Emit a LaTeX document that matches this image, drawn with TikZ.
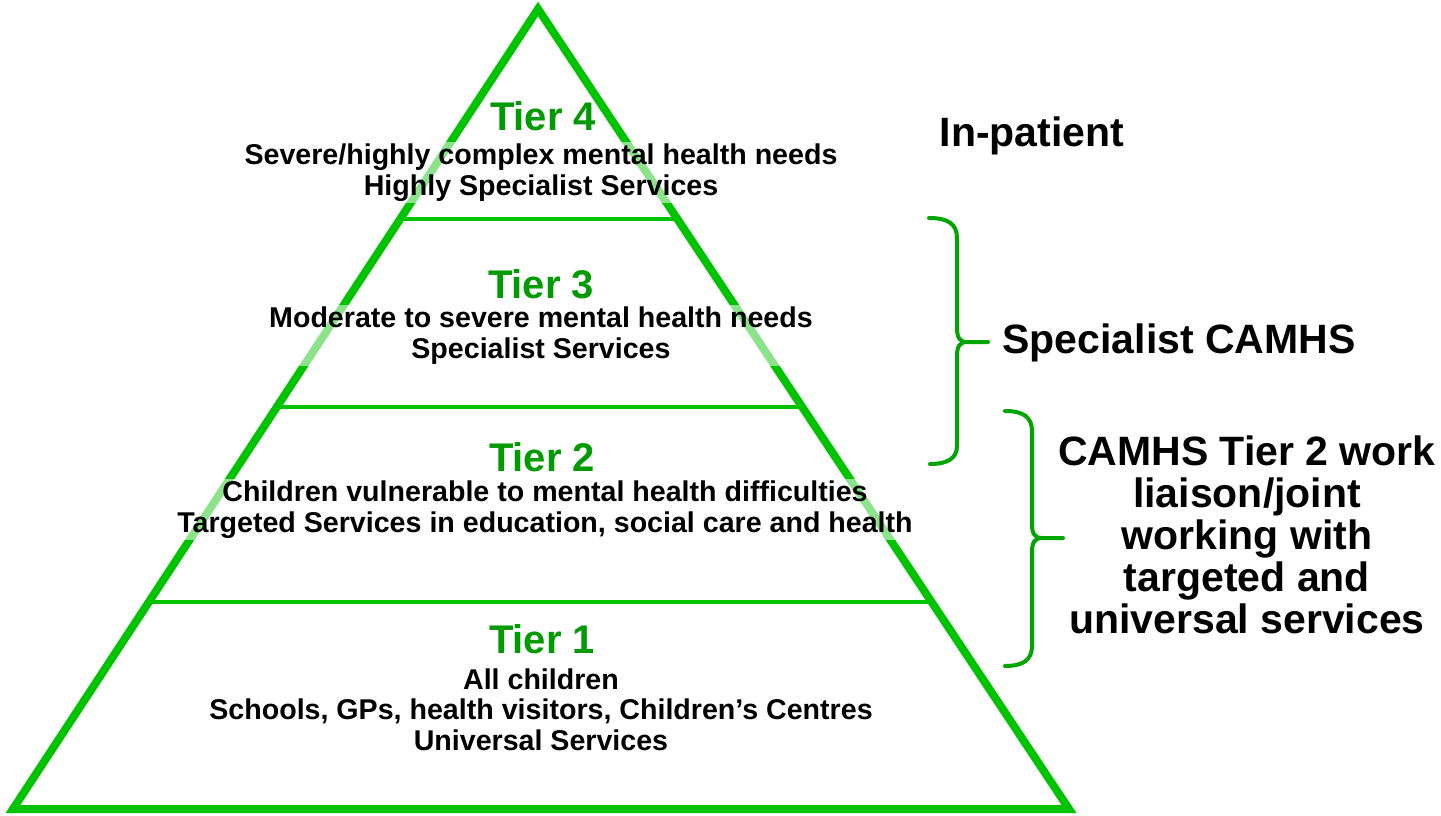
\documentclass[tikz,border=0pt]{standalone}
\usepackage{fontspec}
\setmainfont{Liberation Sans}
\usetikzlibrary{calc}
\definecolor{pyr}{RGB}{0,195,0}
\definecolor{tiergreen}{RGB}{0,155,0}
\definecolor{bracegreen}{RGB}{0,165,0}
\tikzset{
 outer/.style={draw=pyr, line width=4pt, line join=miter},
 divider/.style={draw=pyr, line width=2pt},
 tiertitle/.style={anchor=base, text=tiergreen, font=\fontsize{20}{22}\selectfont\bfseries, inner sep=0pt},
 desc/.style={anchor=base, align=center, font=\fontsize{14.3}{15.2}\selectfont\bfseries, fill=white, fill opacity=0.55, text opacity=1, inner sep=1pt},
 sidelabel/.style={anchor=base, align=center, font=\fontsize{20.5}{21}\selectfont\bfseries, inner sep=0pt},
 bracepath/.style={draw=bracegreen, line width=2pt, line cap=round, line join=round},
}
\begin{document}
\begin{tikzpicture}[x=0.5pt, y=-0.5pt]
\useasboundingbox (0,0) rectangle (1441,815);
% pyramid
\coordinate (apex) at (538,9);
\coordinate (bl) at (13,809);
\coordinate (br) at (1069,809);
\draw[outer] (apex) -- (bl) -- (br) -- cycle;
\draw[divider] ($(apex)!0.2625!(bl)$) -- ($(apex)!0.2625!(br)$);
\draw[divider] ($(apex)!0.4975!(bl)$) -- ($(apex)!0.4975!(br)$);
\draw[divider] ($(apex)!0.741!(bl)$) -- ($(apex)!0.741!(br)$);
% tier texts (multi-line nodes: base = baseline of last line)
\node[tiertitle] (t4) at (543,130) {Tier 4};
\node[desc] (d4) at (541,195) {Severe/highly complex mental health needs\\Highly Specialist Services};
\node[tiertitle] (t3) at (541,298) {Tier 3};
\node[desc] (d3) at (541,358) {Moderate to severe mental health needs\\Specialist Services};
\node[tiertitle] (t2) at (542,471) {Tier 2};
\node[desc] (d2) at (545,532) {Children vulnerable to mental health difficulties\\Targeted Services in education, social care and health};
\node[tiertitle] (t1) at (542,653) {Tier 1};
\node[desc] (d1) at (541,750) {All children\\Schools, GPs, health visitors, Children's Centres\\Universal Services};
% side labels
\node[sidelabel] (inpat) at (1032,146) {In-patient};
\node[sidelabel] (spec) at (1179,353) {Specialist CAMHS};
\node[sidelabel] (camhs) at (1247,633) {CAMHS Tier 2 work\\liaison/joint\\working with\\targeted and\\universal services};
% braces
\coordinate (sa) at (929,218);
\coordinate (sb) at (930,464);
\coordinate (sm) at (988,342);
\draw[bracepath] (sa) .. controls (948,218) and (957,224) .. (957,238) -- (957,328)
  .. controls (957,338) and (960,342) .. (967,342) -- (sm);
\draw[bracepath] (967,342) .. controls (960,342) and (957,346) .. (957,356) -- (957,446)
  .. controls (957,458) and (948,464) .. (sb);
\coordinate (ca) at (1005,411);
\coordinate (cb) at (1005,666);
\coordinate (cm) at (1063,538);
\draw[bracepath] (ca) .. controls (1023,411) and (1032,417) .. (1032,431) -- (1032,524)
  .. controls (1032,534) and (1035,538) .. (1042,538) -- (cm);
\draw[bracepath] (1042,538) .. controls (1035,538) and (1032,542) .. (1032,552) -- (1032,646)
  .. controls (1032,660) and (1023,666) .. (cb);
\end{tikzpicture}
\end{document}
